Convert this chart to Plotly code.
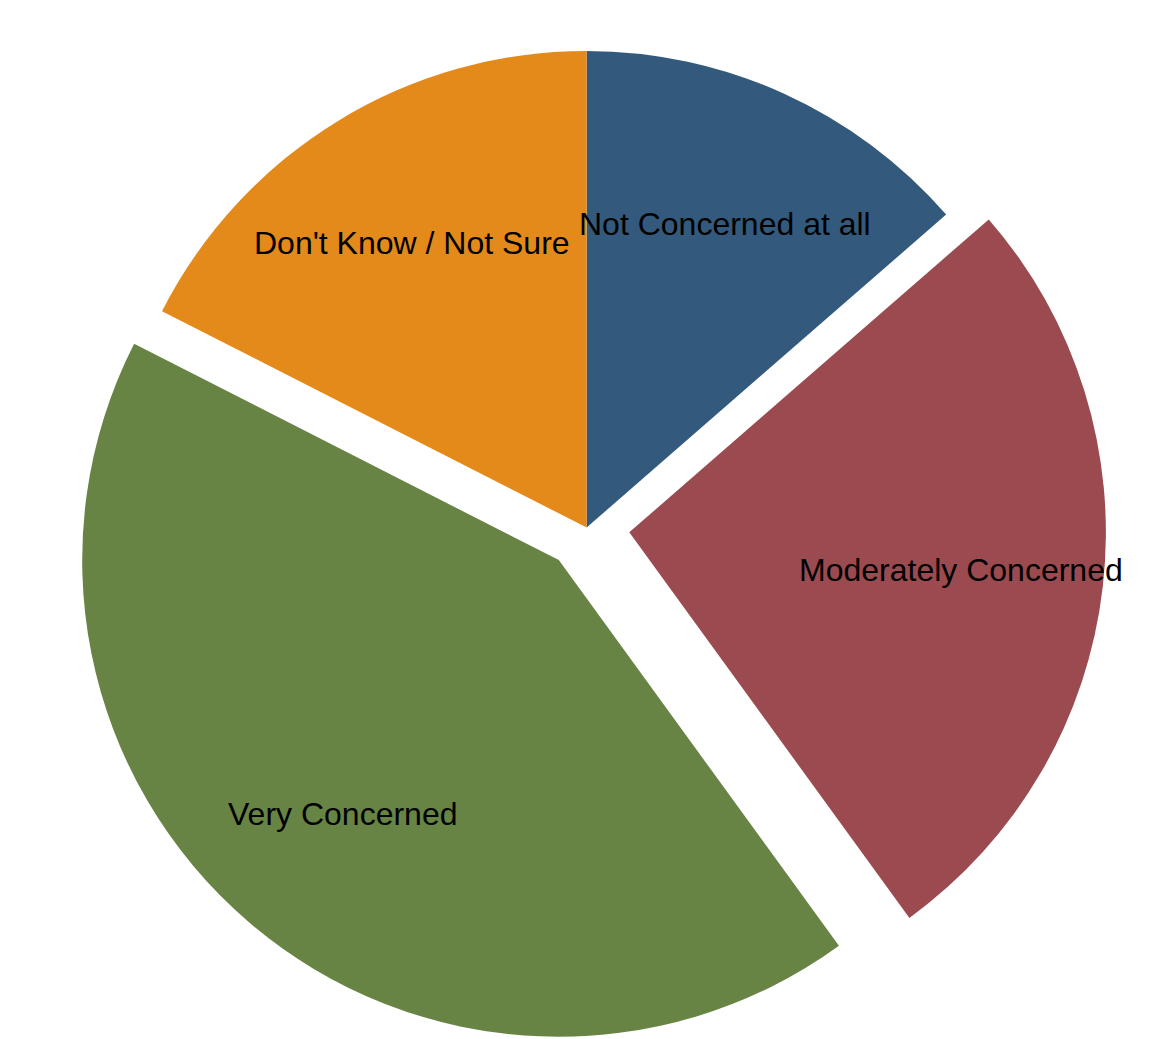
import math
import plotly.graph_objects as go

categories = ["Not Concerned at all", "Moderately Concerned", "Very Concerned", "Don't Know / Not Sure"]
values = [13.6, 26.4, 42.5, 17.5]
pulls = [0.0, 0.09, 0.09, 0.0]
colors = ["#335A7C", "#9B4A50", "#678444", "#E48A1A"]

W, H = 1169, 1039
DOM_X = [0.0, 0.99]
DOM_Y = [0.0, 1.0]
LABEL_R = 0.70  # label distance as a fraction of the radius
FONT = dict(family="Liberation Sans, Arial, sans-serif", size=32, color="black")

fig = go.Figure(go.Pie(
    labels=categories,
    values=values,
    pull=pulls,
    sort=False,
    direction="clockwise",
    rotation=0,
    marker=dict(colors=colors, line=dict(width=0)),
    textinfo="none",
    textposition="none",
    hoverinfo="label+percent",
    showlegend=False,
    domain=dict(x=DOM_X, y=DOM_Y),
))

# Label positions derived from the data, following Plotly's pie geometry
box_w = W * (DOM_X[1] - DOM_X[0])
box_h = H * (DOM_Y[1] - DOM_Y[0])
cx = W * (DOM_X[0] + DOM_X[1]) / 2
cy = H * (DOM_Y[0] + DOM_Y[1]) / 2
r = min(box_w, box_h) / (2 + 2 * max(pulls))
total = sum(values)
cum = 0.0
annotations = []
for lab, v, p in zip(categories, values, pulls):
    mid = (cum + v / 2) / total * 2 * math.pi
    cum += v
    dx, dy = math.sin(mid), math.cos(mid)
    px = cx + (p * r + LABEL_R * r) * dx
    py = cy + (p * r + LABEL_R * r) * dy
    annotations.append(dict(
        text=lab, x=px / W, y=py / H, xref="paper", yref="paper",
        xanchor="center", yanchor="middle", showarrow=False, font=FONT,
    ))

fig.update_layout(
    width=W,
    height=H,
    margin=dict(l=0, r=0, t=0, b=0),
    paper_bgcolor="white",
    plot_bgcolor="white",
    annotations=annotations,
)

fig.write_html("out.html")
